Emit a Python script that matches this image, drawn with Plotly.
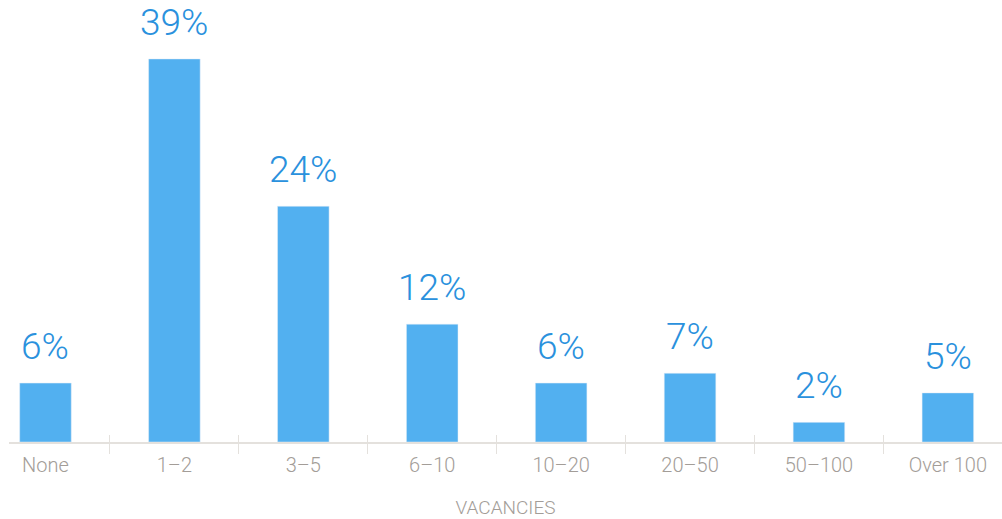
import plotly.graph_objects as go

# Share of employers by number of vacancies
categories = ["None", "1–2", "3–5", "6–10", "10–20", "20–50", "50–100", "Over 100"]
shares = [6, 39, 24, 12, 6, 7, 2, 5]

BAR_COLOR = "#52b0f0"
LABEL_COLOR = "#2a91dd"
AXIS_COLOR = "#e4e1dd"
TEXT_GREY = "#a39d98"
FONT = "Roboto, Lato, sans-serif"

fig = go.Figure()
fig.add_trace(go.Bar(
    x=categories, y=shares, marker_color=BAR_COLOR, width=0.4,
    hoverinfo="skip", xaxis="x", yaxis="y",
))
# invisible companion trace so the overlay axis can draw the upper half of the ticks
fig.add_trace(go.Bar(
    x=categories, y=[0] * len(categories), opacity=0, hoverinfo="skip",
    showlegend=False, xaxis="x2", yaxis="y",
))

for cat, val in zip(categories, shares):
    fig.add_annotation(
        x=cat, y=val, text=f"{val}%", showarrow=False,
        yanchor="bottom", yshift=13,
        font=dict(family=FONT, size=37, color=LABEL_COLOR, weight=300),
    )

x_range = [-0.283, 7.42]
fig.update_layout(
    width=1002, height=519,
    margin=dict(l=9, r=0, t=0, b=77),
    paper_bgcolor="white", plot_bgcolor="white",
    showlegend=False,
    xaxis=dict(
        type="category", range=x_range,
        showline=True, linecolor=AXIS_COLOR, linewidth=2,
        ticks="outside", tickson="boundaries", ticklen=10, tickcolor=AXIS_COLOR, tickwidth=1,
        ticklabelstandoff=4,
        showgrid=False, zeroline=False,
        tickfont=dict(family=FONT, size=20, color=TEXT_GREY, weight=300),
        title=dict(text="VACANCIES", font=dict(family=FONT, size=19, color=TEXT_GREY, weight=300),
                   standoff=28),
    ),
    xaxis2=dict(
        type="category", range=x_range, overlaying="x", side="bottom", matches="x",
        showline=False, ticks="inside", tickson="boundaries", ticklen=7,
        tickcolor=AXIS_COLOR, tickwidth=1, showticklabels=False, showgrid=False, zeroline=False,
    ),
    yaxis=dict(range=[0, 45], visible=False, fixedrange=True),
)

fig.write_html("out.html")
